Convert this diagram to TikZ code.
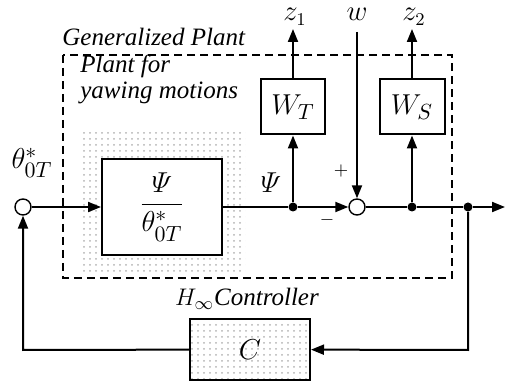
\documentclass[tikz,border=0pt]{standalone}
\usepackage{amsmath}
\usepackage{fontspec}
\setmainfont{Liberation Serif}
\usetikzlibrary{arrows.meta,patterns}

\tikzset{
  blk/.style={draw, line width=1pt, fill=white, inner sep=0pt},
  sumpt/.style={draw, circle, line width=0.7pt, fill=white, minimum size=8pt, inner sep=0pt},
  junc/.style={circle, fill=black, minimum size=4.5pt, inner sep=0pt},
  sig/.style={line width=1pt, -{Triangle[length=6.5pt,width=5pt]}},
  wire/.style={line width=1pt},
  lbl/.style={font=\itshape\fontsize{12.5}{14}\selectfont, inner sep=0pt},
  sglbl/.style={font=\fontsize{13.5}{16}\selectfont, inner sep=0.5pt},
  dotfill/.style={pattern=dots, pattern color=black!30},
}

\begin{document}
\begin{tikzpicture}[x=0.5pt,y=-0.5pt]
  \useasboundingbox (0,0) rectangle (510,385);

  % generalized plant frame and shading
  \draw[dashed, line width=0.7pt, dash pattern=on 4pt off 2.5pt] (63,55) rectangle (452,278);
  \fill[dotfill] (80,133) rectangle (245,272);
  \node[lbl, anchor=base west] (gp) at (62,46) {Generalized Plant};
  \node[lbl, anchor=base west, align=left] (pl) at (80,99) {Plant for\\[-1pt]yawing motions};

  % blocks
  \node[blk, minimum width=60pt, minimum height=48pt] (P) at (162,207)
    {\fontsize{15}{17}\selectfont$\dfrac{\varPsi}{\theta^{*}_{0T}}$};
  \node[blk, minimum width=32pt, minimum height=27.5pt] (WT) at (293,107) {\fontsize{15}{17}\selectfont$W_T$};
  \node[blk, minimum width=32.5pt, minimum height=27.5pt] (WS) at (412,107) {\fontsize{15}{17}\selectfont$W_S$};
  \node[blk, dotfill, minimum width=60pt, minimum height=30.5pt] (C) at (250,349.5) {};
  \node (Clbl) at (C) {\fontsize{15}{17}\selectfont$C$};
  \node[lbl, anchor=base] (hc) at (247,306) {$H_{\infty}$Controller};

  % summing points and junctions
  \node[sumpt] (s1) at (23,207) {};
  \node[sumpt] (s2) at (357,207) {};
  \node[junc] (j1) at (293,207) {};
  \node[junc] (j2) at (412,207) {};
  \node[junc] (j3) at (468,207) {};
  \coordinate (out) at (505,207);
  \coordinate (wtop) at (357,32);
  \coordinate (z1end) at (293,29);
  \coordinate (z2end) at (412,29);
  \coordinate (fb1) at (468,350);
  \coordinate (fb2) at (23,350);

  % signals
  \draw[sig] (s1) -- (P);
  \draw[wire] (P) -- (j1);
  \draw[sig] (j1) -- (s2);
  \draw[wire] (s2) -- (j2) -- (j3);
  \draw[sig] (j3) -- (out);
  \draw[sig] (j1) -- (WT);
  \draw[sig] (j2) -- (WS);
  \draw[sig] (WT) -- (z1end);
  \draw[sig] (WS) -- (z2end);
  \draw[sig] (wtop) -- (s2);
  \draw[sig] (j3) -- (fb1) -- (C);
  \draw[sig] (C) -- (fb2) -- (s1);

  % signal labels
  \node[sglbl, anchor=base] (z1) at (295,21) {$z_1$};
  \node[sglbl, anchor=base] (w) at (357,21) {$w$};
  \node[sglbl, anchor=base] (z2) at (414,21) {$z_2$};
  \node[sglbl] (psi) at (271,183) {$\varPsi$};
  \node[font=\fontsize{15}{17}\selectfont] (th) at (32,163) {$\theta^{*}_{0T}$};
  \node[font=\fontsize{9}{10}\selectfont] (plus) at (341,171) {$+$};
  \node[font=\fontsize{9}{10}\selectfont] (minus) at (327,220) {$-$};
\end{tikzpicture}
\end{document}
